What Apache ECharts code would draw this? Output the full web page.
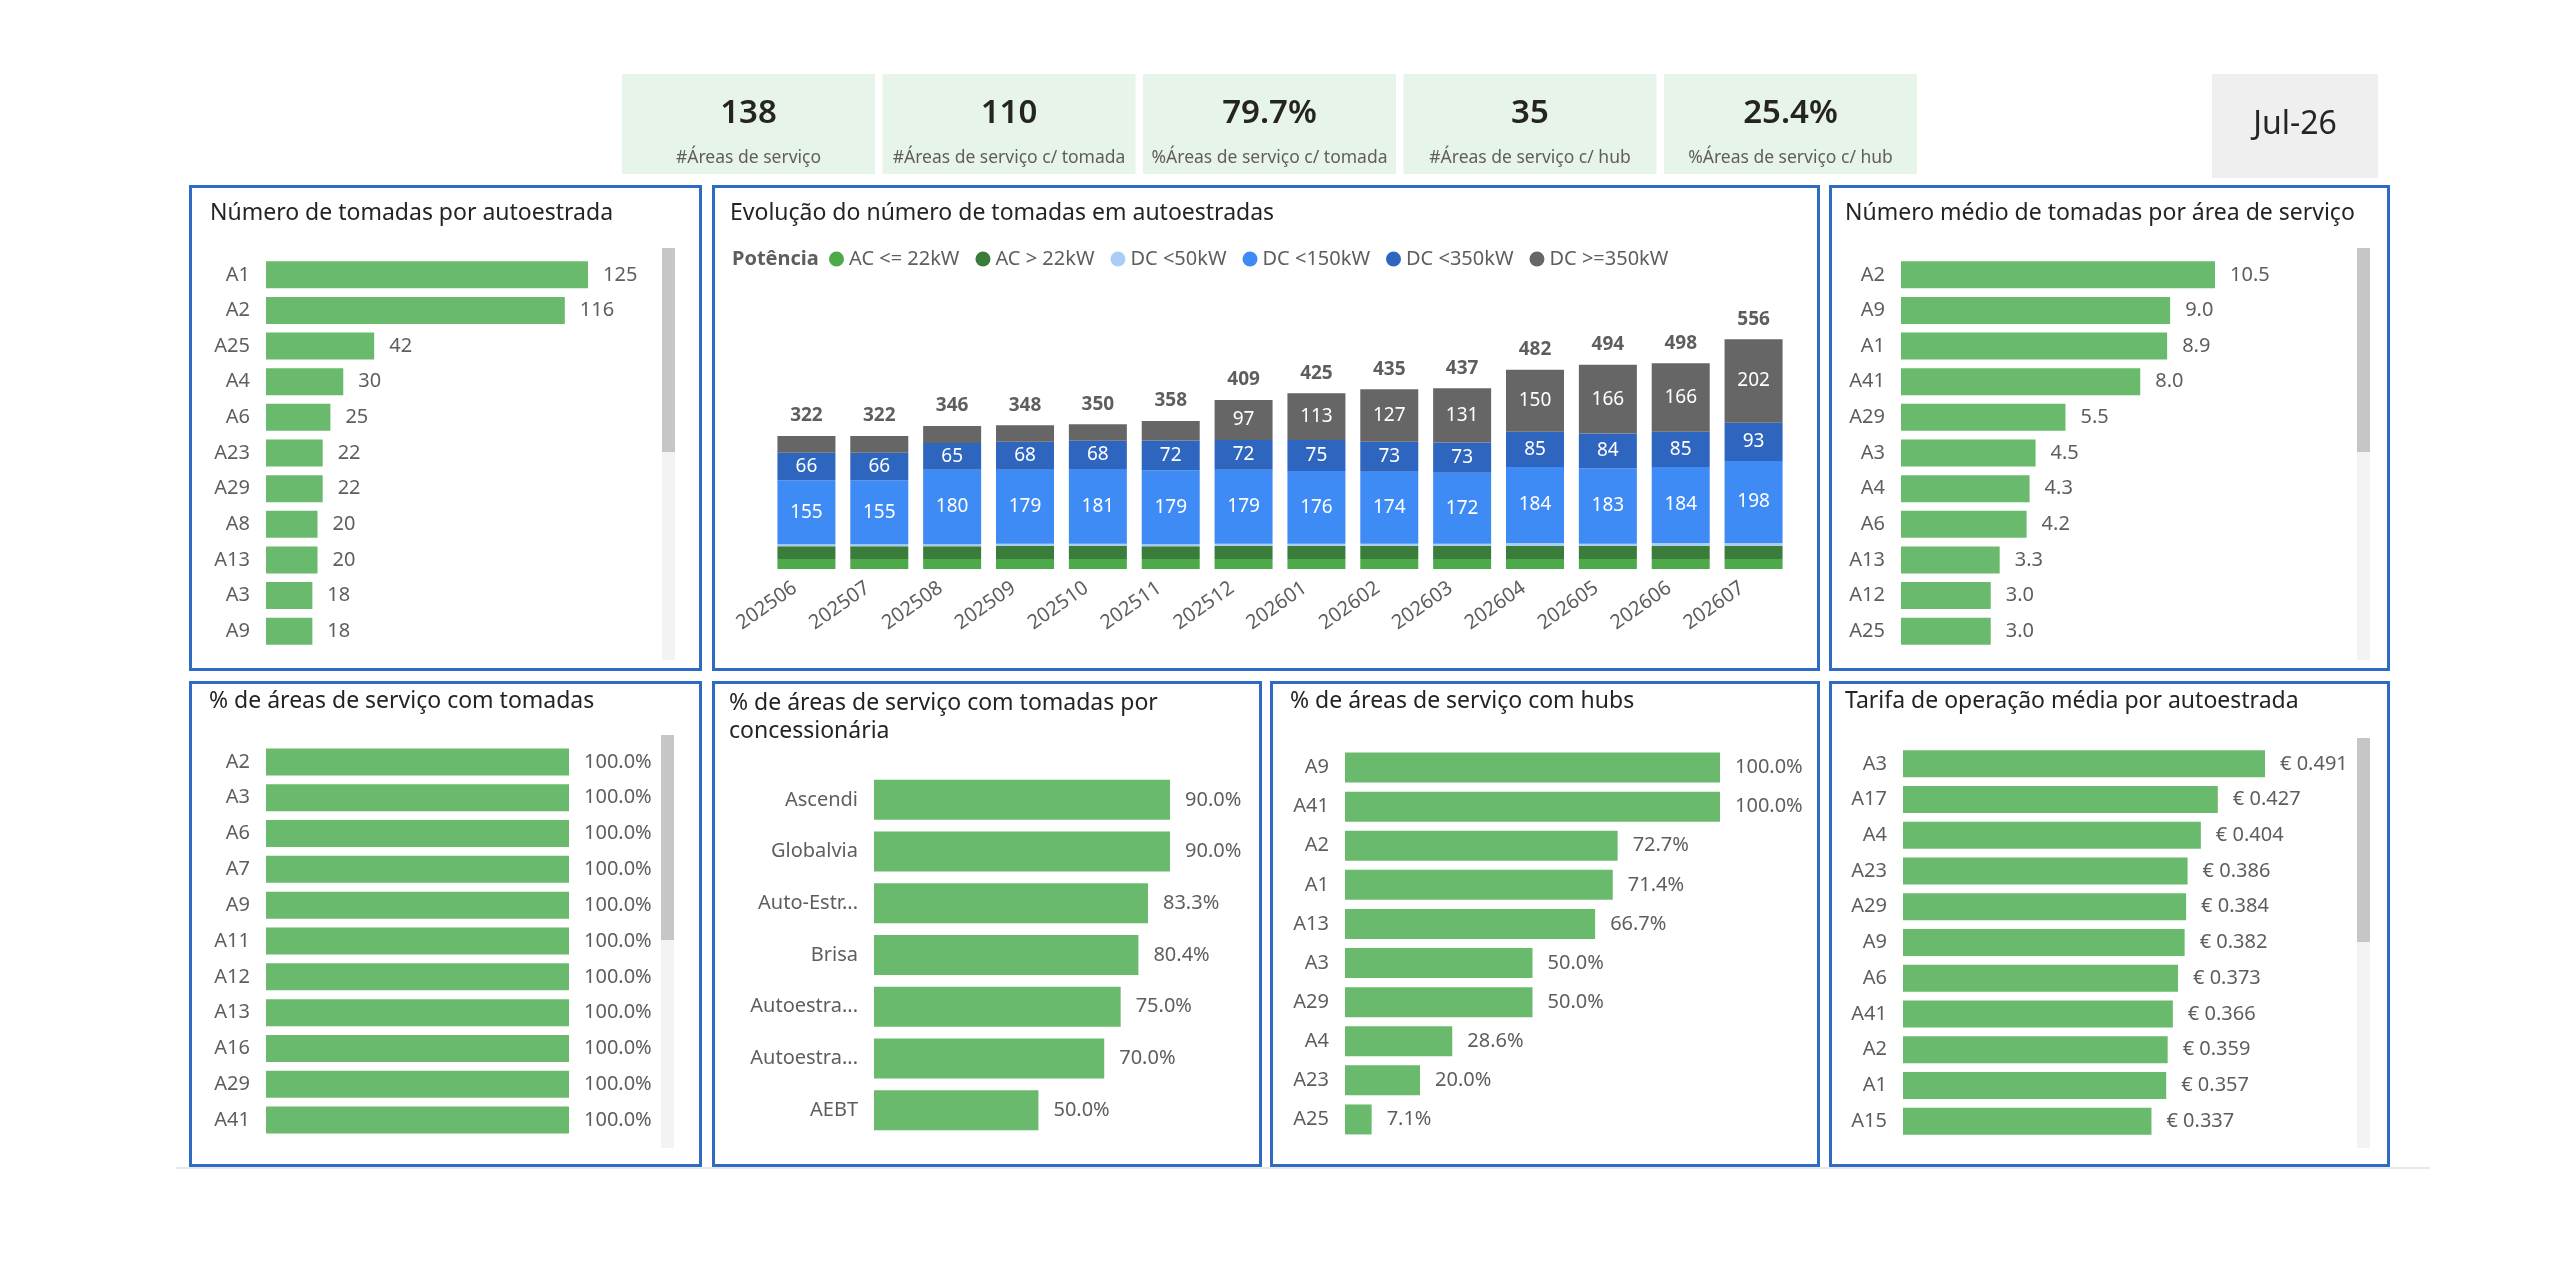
<!DOCTYPE html>
<html lang="pt">
<head>
<meta charset="UTF-8">
<title>Tomadas em autoestradas</title>
<script src="https://cdn.jsdelivr.net/npm/echarts@6.0.0/dist/echarts.min.js"></script>
<style>
  html, body { margin: 0; padding: 0; background: #fff; }
  #painel { width: 2560px; height: 1287px; }
</style>
</head>
<body>
<div id="painel"></div>
<script>
// ---- dados ----
var kpiValores = ['138', '110', '79.7%', '35', '25.4%'];
var kpiNomes = ['#Áreas de serviço', '#Áreas de serviço c/ tomada', '%Áreas de serviço c/ tomada',
                '#Áreas de serviço c/ hub', '%Áreas de serviço c/ hub'];
var dataRef = 'Jul-26';

var meses = ['202506', '202507', '202508', '202509', '202510', '202511', '202512',
             '202601', '202602', '202603', '202604', '202605', '202606', '202607'];
var potencias = ['AC <= 22kW', 'AC > 22kW', 'DC <50kW', 'DC <150kW', 'DC <350kW', 'DC >=350kW'];
var acAte22  = [24, 24, 24, 24, 24, 24, 24, 24, 24, 24, 24, 24, 24, 24];
var acMais22 = [31, 31, 31, 32, 32, 31, 32, 32, 32, 32, 32, 32, 32, 32];
var dc50     = [5, 5, 5, 5, 5, 5, 5, 5, 5, 5, 7, 5, 7, 7];
var dc150    = [155, 155, 180, 179, 181, 179, 179, 176, 174, 172, 184, 183, 184, 198];
var dc350    = [66, 66, 65, 68, 68, 72, 72, 75, 73, 73, 85, 84, 85, 93];
var dcMais350 = [41, 41, 41, 40, 40, 47, 97, 113, 127, 131, 150, 166, 166, 202];
var totais   = [322, 322, 346, 348, 350, 358, 409, 425, 435, 437, 482, 494, 498, 556];

var tomadasCat = ['A1', 'A2', 'A25', 'A4', 'A6', 'A23', 'A29', 'A8', 'A13', 'A3', 'A9'];
var tomadasVal = [125, 116, 42, 30, 25, 22, 22, 20, 20, 18, 18];

var mediaCat = ['A2', 'A9', 'A1', 'A41', 'A29', 'A3', 'A4', 'A6', 'A13', 'A12', 'A25'];
var mediaVal = [10.5, 9.0, 8.9, 8.0, 5.5, 4.5, 4.3, 4.2, 3.3, 3.0, 3.0];

var comTomadaCat = ['A2', 'A3', 'A6', 'A7', 'A9', 'A11', 'A12', 'A13', 'A16', 'A29', 'A41'];
var comTomadaVal = [100, 100, 100, 100, 100, 100, 100, 100, 100, 100, 100];

var concCat = ['Ascendi', 'Globalvia', 'Auto-Estr...', 'Brisa', 'Autoestra...', 'Autoestra...', 'AEBT'];
var concVal = [90.0, 90.0, 83.3, 80.4, 75.0, 70.0, 50.0];

var hubsCat = ['A9', 'A41', 'A2', 'A1', 'A13', 'A3', 'A29', 'A4', 'A23', 'A25'];
var hubsVal = [100.0, 100.0, 72.7, 71.4, 66.7, 50.0, 50.0, 28.6, 20.0, 7.1];

var tarifaCat = ['A3', 'A17', 'A4', 'A23', 'A29', 'A9', 'A6', 'A41', 'A2', 'A1', 'A15'];
var tarifaVal = [0.491, 0.427, 0.404, 0.386, 0.384, 0.382, 0.373, 0.366, 0.359, 0.357, 0.337];

// ---- estilo ----
var FONTE = '"Noto Sans", "Segoe UI", sans-serif';
var VERDE = '#69ba6d';
var CINZA_TXT = '#605e5c';
var AZUL_BORDA = '#2f6bc4';
var coresPotencia = ['#4ea94b', '#3a7d3a', '#a9cdf7', '#3f8bf5', '#2e65bf', '#666666'];

var chart = echarts.init(document.getElementById('painel'));

var grids = [], xAxes = [], yAxes = [], series = [], titulos = [], graficos = [];

// molduras dos visuais
var paineis = [
    { x: 189, y: 185, w: 513, h: 486 },
    { x: 712, y: 185, w: 1108, h: 486 },
    { x: 1829, y: 185, w: 561, h: 486 },
    { x: 189, y: 681, w: 513, h: 486 },
    { x: 712, y: 681, w: 550, h: 486 },
    { x: 1270, y: 681, w: 550, h: 486 },
    { x: 1829, y: 681, w: 561, h: 486 }
];
graficos.push({ type: 'line', shape: { x1: 176, y1: 1168, x2: 2430, y2: 1168 },
    style: { stroke: '#e8e8e8', lineWidth: 2 }, z: -2 });
paineis.forEach(function (p) {
    graficos.push({ type: 'rect', shape: { x: p.x + 1.5, y: p.y + 1.5, width: p.w - 3, height: p.h - 3 },
        style: { fill: '#fff', stroke: AZUL_BORDA, lineWidth: 3 }, z: -1 });
});

// cartões KPI
kpiValores.forEach(function (v, i) {
    var x0 = 622 + i * 260.5;
    graficos.push({ type: 'rect', shape: { x: x0, y: 74, width: 253, height: 100 },
        style: { fill: '#e6f4ea' }, z: -1 });
    graficos.push({ type: 'text', x: x0 + 126.5, y: 114,
        style: { text: v, font: '600 33px ' + FONTE, fill: '#252423', textAlign: 'center', textVerticalAlign: 'middle' } });
    graficos.push({ type: 'text', x: x0 + 126.5, y: 158,
        style: { text: kpiNomes[i], font: '17.5px ' + FONTE, fill: CINZA_TXT, textAlign: 'center', textVerticalAlign: 'middle' } });
});
graficos.push({ type: 'rect', shape: { x: 2212, y: 74, width: 166, height: 104 }, style: { fill: '#efefef' }, z: -1 });
graficos.push({ type: 'text', x: 2295, y: 125,
    style: { text: dataRef, font: '32px ' + FONTE, fill: '#252423', textAlign: 'center', textVerticalAlign: 'middle' } });

// barras de deslocamento
[[662, 248, 660, 452], [2357, 248, 660, 452], [661, 735, 1148, 940], [2357, 738, 1148, 942]].forEach(function (s) {
    graficos.push({ type: 'rect', shape: { x: s[0], y: s[1], width: 13, height: s[2] - s[1] }, style: { fill: '#f3f3f3' } });
    graficos.push({ type: 'rect', shape: { x: s[0], y: s[1], width: 13, height: s[3] - s[1] }, style: { fill: '#c6c6c6' } });
});

function titulo(texto, left, top) {
    titulos.push({ text: texto, left: left, top: top, padding: 0,
        textStyle: { fontSize: 23, fontWeight: 'normal', color: '#252423', lineHeight: 28, fontFamily: FONTE } });
}

function barrasH(cats, vals, fmt, g) {
    var i = grids.length;
    grids.push({ left: g.left, top: g.top, width: g.width, height: g.height, outerBoundsMode: 'none' });
    xAxes.push({ gridIndex: i, type: 'value', min: 0, max: Math.max.apply(null, vals), show: false });
    yAxes.push({ gridIndex: i, type: 'category', inverse: true, data: cats,
        axisLine: { show: false }, axisTick: { show: false }, splitLine: { show: false },
        axisLabel: { fontSize: 20, color: CINZA_TXT, margin: 16, fontFamily: FONTE, interval: 0 } });
    series.push({ type: 'bar', xAxisIndex: i, yAxisIndex: i, data: vals, barWidth: g.bar,
        itemStyle: { color: VERDE }, silent: true,
        label: { show: true, position: 'right', distance: 15, fontSize: 20, color: CINZA_TXT, fontFamily: FONTE,
            formatter: function (p) { return fmt(p.value); } } });
}

var num1 = function (v) { return v.toFixed(1); };
var pct = function (v) { return v.toFixed(1) + '%'; };
var eur = function (v) { return '€ ' + v.toFixed(3); };

titulo('Número de tomadas por autoestrada', 210, 199);
barrasH(tomadasCat, tomadasVal, String, { left: 266, top: 257, width: 322, height: 392, bar: 27 });

titulo('Número médio de tomadas por área de serviço', 1845, 199);
barrasH(mediaCat, mediaVal, num1, { left: 1901, top: 257, width: 314, height: 392, bar: 27 });

titulo('% de áreas de serviço com tomadas', 209, 687);
barrasH(comTomadaCat, comTomadaVal, pct, { left: 266, top: 744, width: 303, height: 394, bar: 27 });

titulo('% de áreas de serviço com tomadas por\nconcessionária', 729, 689);
barrasH(concCat, concVal, pct, { left: 874, top: 774, width: 296, height: 362, bar: 40 });

titulo('% de áreas de serviço com hubs', 1290, 687);
barrasH(hubsCat, hubsVal, pct, { left: 1345, top: 748, width: 375, height: 391, bar: 30 });

titulo('Tarifa de operação média por autoestrada', 1845, 687);
barrasH(tarifaCat, tarifaVal, eur, { left: 1903, top: 746, width: 362, height: 393, bar: 27 });

// evolução mensal empilhada
titulo('Evolução do número de tomadas em autoestradas', 730, 199);
titulos.push({ text: 'Potência', left: 732, top: 246, padding: 0,
    textStyle: { fontSize: 20, fontWeight: 'bold', color: CINZA_TXT, lineHeight: 26, fontFamily: FONTE } });

var g = grids.length;
grids.push({ left: 770, top: 321, width: 1020, height: 248, outerBoundsMode: 'none' });
xAxes.push({ gridIndex: g, type: 'category', data: meses,
    axisLine: { show: false }, axisTick: { show: false },
    axisLabel: { rotate: 35, fontSize: 20, color: CINZA_TXT, margin: 9, padding: [0, 14, 0, 0],
        interval: 0, fontFamily: FONTE } });
yAxes.push({ gridIndex: g, type: 'value', min: 0, max: 600, show: false });

[acAte22, acMais22, dc50, dc150, dc350, dcMais350].forEach(function (d, k) {
    series.push({ name: potencias[k], type: 'bar', stack: 'total', xAxisIndex: g, yAxisIndex: g,
        data: d, barWidth: 58, silent: true, itemStyle: { color: coresPotencia[k] },
        label: { show: k >= 3, position: 'inside', color: '#fff', fontSize: 19, fontFamily: FONTE,
            formatter: function (p) { return p.value >= 60 ? String(p.value) : ''; } } });
});
series.push({ name: 'Total', type: 'line', xAxisIndex: g, yAxisIndex: g, data: totais,
    symbol: 'circle', symbolSize: 1, silent: true, z: 10,
    itemStyle: { color: 'rgba(0,0,0,0)' }, lineStyle: { width: 0, opacity: 0 },
    label: { show: true, position: 'top', distance: 10, fontSize: 19, fontWeight: 'bold',
        color: CINZA_TXT, fontFamily: FONTE } });

chart.setOption({
    backgroundColor: '#fff',
    animation: false,
    textStyle: { fontFamily: FONTE },
    title: titulos,
    legend: { data: potencias, left: 829, top: 249, icon: 'circle', itemWidth: 15, itemHeight: 15,
        itemGap: 16, selectedMode: false, padding: 0,
        textStyle: { fontSize: 20, color: CINZA_TXT, fontFamily: FONTE } },
    grid: grids,
    xAxis: xAxes,
    yAxis: yAxes,
    series: series,
    graphic: graficos
});
</script>
</body>
</html>
